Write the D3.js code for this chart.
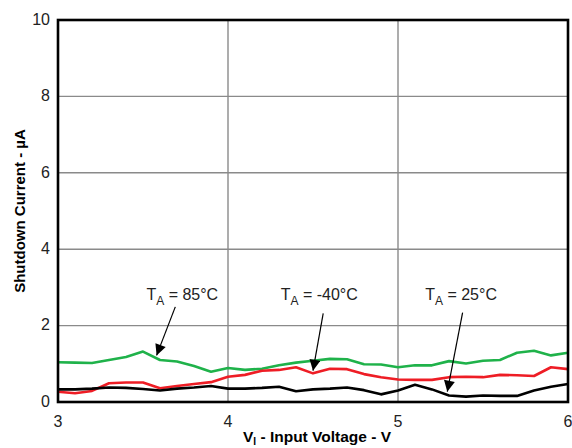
<!DOCTYPE html>
<html>
<head>
<meta charset="utf-8">
<script src="https://cdn.jsdelivr.net/npm/d3@7"></script>
<style>
  body { margin: 0; background: #fff; }
  svg { display: block; font-family: "Liberation Sans", Arial, sans-serif; }
</style>
</head>
<body>
<script>
// input voltage (V)
var voltage = [3.0, 3.1, 3.2, 3.3, 3.4, 3.5, 3.6, 3.7, 3.8, 3.9,
               4.0, 4.1, 4.2, 4.3, 4.4, 4.5, 4.6, 4.7, 4.8, 4.9,
               5.0, 5.1, 5.2, 5.3, 5.4, 5.5, 5.6, 5.7, 5.8, 5.9, 6.0];

// shutdown current (uA) per temperature
var ta85 = [1.04, 1.03, 1.02, 1.10, 1.18, 1.32, 1.10, 1.06, 0.94, 0.79,
            0.89, 0.84, 0.87, 0.96, 1.03, 1.08, 1.13, 1.12, 0.99, 0.98,
            0.91, 0.96, 0.96, 1.07, 1.01, 1.08, 1.10, 1.29, 1.34, 1.22, 1.29];
var taMinus40 = [0.27, 0.23, 0.29, 0.49, 0.51, 0.51, 0.36, 0.42, 0.47, 0.52,
                 0.66, 0.71, 0.82, 0.84, 0.91, 0.75, 0.87, 0.86, 0.73, 0.65,
                 0.59, 0.58, 0.58, 0.65, 0.66, 0.65, 0.71, 0.70, 0.68, 0.91, 0.86];
var ta25 = [0.33, 0.33, 0.35, 0.38, 0.37, 0.34, 0.30, 0.35, 0.38, 0.42,
            0.35, 0.35, 0.37, 0.40, 0.28, 0.33, 0.35, 0.38, 0.31, 0.20,
            0.30, 0.45, 0.33, 0.17, 0.14, 0.17, 0.16, 0.16, 0.30, 0.40, 0.47];

var xTicks = [3, 4, 5, 6];
var yTicks = [0, 2, 4, 6, 8, 10];

// annotation: label pos, arrow start, arrow tip (data units)
var notes = [
  { temp: "85°C",  tx: 3.52, ty: 2.67, x1: 3.69, y1: 2.49, x2: 3.58, y2: 1.22 },
  { temp: "-40°C", tx: 4.31, ty: 2.67, x1: 4.56, y1: 2.32, x2: 4.50, y2: 0.82 },
  { temp: "25°C",  tx: 5.16, ty: 2.67, x1: 5.38, y1: 2.34, x2: 5.29, y2: 0.27 }
];

var series = [
  { values: ta85, color: "#1fb24a" },
  { values: taMinus40, color: "#ee1d25" },
  { values: ta25, color: "#000000" }
];

var width = 572, height = 448;
var margin = { top: 20, right: 4, bottom: 46, left: 58 };

var svg = d3.select("body").append("svg")
    .attr("width", width)
    .attr("height", height);

var x = d3.scaleLinear().domain([3, 6]).range([margin.left, width - margin.right]);
var y = d3.scaleLinear().domain([0, 10]).range([height - margin.bottom, margin.top]);

// grid
svg.append("g")
  .selectAll("line.gy")
  .data(yTicks.slice(1, -1))
  .enter().append("line")
    .attr("x1", x(3)).attr("x2", x(6))
    .attr("y1", function(d) { return y(d); })
    .attr("y2", function(d) { return y(d); })
    .attr("stroke", "#8a8a8a").attr("stroke-width", 1.4);

svg.append("g")
  .selectAll("line.gx")
  .data(xTicks.slice(1, -1))
  .enter().append("line")
    .attr("x1", function(d) { return x(d); })
    .attr("x2", function(d) { return x(d); })
    .attr("y1", y(0)).attr("y2", y(10))
    .attr("stroke", "#8a8a8a").attr("stroke-width", 1.4);

// series
var line = d3.line()
    .x(function(d, i) { return x(voltage[i]); })
    .y(function(d) { return y(d); });

svg.selectAll("path.series")
  .data(series)
  .enter().append("path")
    .attr("class", "series")
    .attr("d", function(d) { return line(d.values); })
    .attr("fill", "none")
    .attr("stroke", function(d) { return d.color; })
    .attr("stroke-width", 2.6)
    .attr("stroke-linejoin", "round");

// frame
svg.append("rect")
    .attr("x", x(3)).attr("y", y(10))
    .attr("width", x(6) - x(3)).attr("height", y(0) - y(10))
    .attr("fill", "none").attr("stroke", "#000").attr("stroke-width", 2.6);

// tick labels
svg.append("g")
  .selectAll("text")
  .data(yTicks)
  .enter().append("text")
    .attr("x", margin.left - 8)
    .attr("y", function(d) { return y(d); })
    .attr("dy", "0.3em")
    .attr("text-anchor", "end")
    .attr("font-size", 16)
    .attr("fill", "#222")
    .text(function(d) { return d; });

svg.append("g")
  .selectAll("text")
  .data(xTicks)
  .enter().append("text")
    .attr("x", function(d) { return x(d); })
    .attr("y", y(0) + 25)
    .attr("text-anchor", "middle")
    .attr("font-size", 16)
    .attr("fill", "#222")
    .text(function(d) { return d; });

// axis titles
var xt = svg.append("text")
    .attr("x", (x(3) + x(6)) / 2 + 4)
    .attr("y", height - 6)
    .attr("text-anchor", "middle")
    .attr("font-size", 15.5)
    .attr("font-weight", "bold");
xt.append("tspan").text("V");
xt.append("tspan").attr("font-size", 10).attr("dy", 3).text("I");
xt.append("tspan").attr("dy", -3).text(" - Input Voltage - V");

svg.append("text")
    .attr("transform", "translate(25," + ((y(0) + y(10)) / 2) + ") rotate(-90)")
    .attr("text-anchor", "middle")
    .attr("font-size", 15)
    .attr("font-weight", "bold")
    .text("Shutdown Current - µA");

// annotations
svg.append("defs").append("marker")
    .attr("id", "arrow")
    .attr("viewBox", "0 0 10 10")
    .attr("refX", 10).attr("refY", 5)
    .attr("markerWidth", 13).attr("markerHeight", 11)
    .attr("markerUnits", "userSpaceOnUse")
    .attr("orient", "auto")
  .append("path")
    .attr("d", "M0,0 L10,5 L0,10 Z")
    .attr("fill", "#000");

var ann = svg.append("g").selectAll("g")
  .data(notes)
  .enter().append("g");

ann.append("line")
    .attr("x1", function(d) { return x(d.x1); })
    .attr("y1", function(d) { return y(d.y1); })
    .attr("x2", function(d) { return x(d.x2); })
    .attr("y2", function(d) { return y(d.y2); })
    .attr("stroke", "#000").attr("stroke-width", 1.2)
    .attr("marker-end", "url(#arrow)");

var lbl = ann.append("text")
    .attr("x", function(d) { return x(d.tx); })
    .attr("y", function(d) { return y(d.ty); })
    .attr("font-size", 16)
    .attr("fill", "#222");
lbl.append("tspan").text("T");
lbl.append("tspan").attr("font-size", 12).attr("dy", 5).text("A");
lbl.append("tspan").attr("dy", -5).text(function(d) { return " = " + d.temp; });
</script>
</body>
</html>
